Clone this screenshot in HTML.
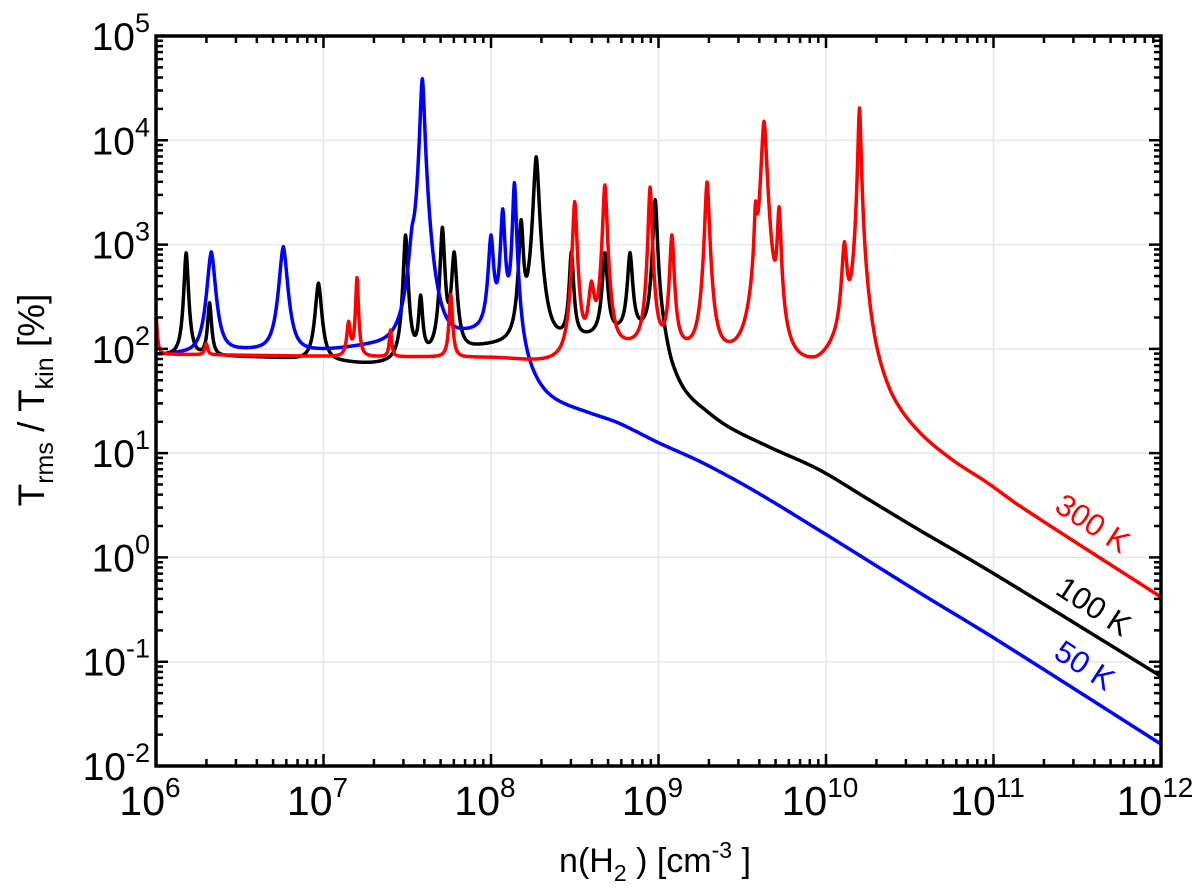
<!DOCTYPE html>
<html><head><meta charset="utf-8"><style>
html,body{margin:0;padding:0;background:#fff;}
svg{display:block;font-family:"Liberation Sans",Arial,sans-serif;}
</style></head><body>
<svg id="chart" width="1200" height="896" viewBox="0 0 1200 896">
<g id="grid"></g>
<g id="series"></g>
<g id="axes"></g>
<text x="1093" y="534" fill="#f00" font-size="31" text-anchor="middle" transform="rotate(33 1093 523)">300 K</text>
<text x="1094" y="617" fill="#000" font-size="31" text-anchor="middle" transform="rotate(33 1094 606)">100 K</text>
<text x="1085" y="676" fill="#00f" font-size="31" text-anchor="middle" transform="rotate(33 1085 665)">50 K</text>
<text x="655" y="872" font-size="34" text-anchor="middle">n(H<tspan font-size="23" dy="9">2</tspan><tspan dy="-9"> ) [cm</tspan><tspan font-size="23" dy="-14">-3</tspan><tspan dy="14"> ]</tspan></text>
<text transform="translate(44 400) rotate(-90)" font-size="37" text-anchor="middle">T<tspan font-size="25" dy="9">rms</tspan><tspan dy="-9"> / T</tspan><tspan font-size="25" dy="9">kin</tspan><tspan dy="-9"> [%]</tspan></text>
</svg>
<script>
// axis ranges (log10)
const xDecades = [6,7,8,9,10,11,12];
const yDecades = [-2,-1,0,1,2,3,4,5];
// black (100 K)
const blackBaseX = [6,6.5,7,7.3,7.6,8,8.5,9,9.08,9.16,9.28,9.42,9.66,9.96,10.26,10.56,10.86,11.16,12];
const blackBaseY = [1.95,1.93,1.9,1.87,1.95,2.05,2.12,2.15,1.8,1.58,1.41,1.25,1.06,0.84,0.55,0.26,-0.02,-0.31,-1.14];
const blackPeakX = [6.18,6.32,6.97,7.49,7.58,7.71,7.78,8.18,8.27,8.48,8.68,8.83,8.98];
const blackPeakY = [2.92,2.44,2.63,3.09,2.5,3.16,2.92,3.22,3.84,2.93,2.92,2.92,3.43];
const blackPeakW = [0.012,0.012,0.02,0.012,0.012,0.012,0.015,0.012,0.015,0.012,0.015,0.015,0.012];
// blue (50 K)
const blueBaseX = [6,6.5,7,7.3,7.6,8,8.12,8.2,8.3,8.4,8.6,8.76,9,9.26,9.56,9.96,10.56,11,12];
const blueBaseY = [1.95,2.0,2.0,2.05,2.1,2.2,2.15,1.85,1.62,1.5,1.38,1.29,1.1,0.91,0.65,0.26,-0.34,-0.77,-1.79];
const bluePeakX = [6.33,6.76,7.53,7.59,8.0,8.07,8.14];
const bluePeakY = [2.93,2.98,2.87,4.59,3.08,3.33,3.59];
const bluePeakW = [0.025,0.025,0.02,0.012,0.015,0.012,0.01];
// red (300 K)
const redBaseX = [6,6.02,7,8,8.3,8.5,8.8,9,9.3,9.6,9.93,10.1,10.22,10.3,10.4,10.56,10.75,10.96,11.16,12];
const redBaseY = [1.95,1.95,1.93,1.92,1.9,1.95,2.05,2.05,2.0,1.98,1.9,2.1,2.15,1.8,1.49,1.19,0.94,0.72,0.49,-0.38];
const redPeakX = [6.0,6.3,7.15,7.2,7.4,7.76,8.5,8.6,8.68,8.95,9.08,9.29,9.58,9.63,9.72,10.11,10.2];
const redPeakY = [2.3,2.05,2.25,2.68,2.18,2.52,3.41,2.6,3.57,3.55,3.09,3.6,3.27,4.18,3.33,3.0,4.31];
const redPeakW = [0.008,0.01,0.012,0.008,0.008,0.01,0.012,0.02,0.012,0.01,0.012,0.012,0.008,0.015,0.01,0.015,0.008];

const X0=156, X1=1161, Y0=36, Y1=766;
const xs = v => X0 + (v-6)/6*(X1-X0);
const ys = v => Y1 - (v+2)/7*(Y1-Y0);
const NS="http://www.w3.org/2000/svg";
function mk(tag, attrs, parent){const e=document.createElementNS(NS,tag);for(const k in attrs)e.setAttribute(k,attrs[k]);parent.appendChild(e);return e;}

const grid=document.getElementById('grid'), axes=document.getElementById('axes'), ser=document.getElementById('series');
xDecades.forEach(d=>{ if(d>6&&d<12){const l=mk('line',{x1:xs(d),x2:xs(d),y1:Y0,y2:Y1,stroke:'#e6e6e6','stroke-width':1.5},grid);

}});
yDecades.forEach(d=>{ if(d>-2&&d<5){const l=mk('line',{x1:X0,x2:X1,y1:ys(d),y2:ys(d),stroke:'#e6e6e6','stroke-width':1.5},grid);

}});

function interp(bx,by,x){
  if(x<=bx[0])return by[0];
  const n=bx.length;
  if(x>=bx[n-1])return by[n-1];
  let i=1; while(x>bx[i])i++;
  const x0=bx[i-1],x1=bx[i],y0=by[i-1],y1=by[i];
  const t=(x-x0)/(x1-x0);
  const m0 = i>1 ? (y1-by[i-2])/(x1-bx[i-2]) : (y1-y0)/(x1-x0);
  const m1 = i<n-1 ? (by[i+1]-y0)/(bx[i+1]-x0) : (y1-y0)/(x1-x0);
  const h=x1-x0, t2=t*t, t3=t2*t;
  return (2*t3-3*t2+1)*y0+(t3-2*t2+t)*h*m0+(-2*t3+3*t2)*y1+(t3-t2)*h*m1;
}
function curve(bx,by,px,py,pw,color,name){
  let d='';
  for(let i=0;i<=3000;i++){
    const x=6+i*0.002;
    let v=Math.pow(10,interp(bx,by,x));
    for(let k=0;k<px.length;k++){
      const A=Math.pow(10,py[k])-Math.pow(10,interp(bx,by,px[k]));
      const dx=x-px[k];
      const u=dx/pw[k];
      v+=A/(1+u*u)*Math.exp(-Math.abs(dx)/0.1);
    }
    const y=Math.log10(v);
    d+=(i?'L':'M')+xs(x).toFixed(2)+' '+ys(y).toFixed(2);
  }
  const p=mk('path',{d:d,fill:'none',stroke:color,'stroke-width':3.5,'stroke-linejoin':'round'},ser);
  
  
}
curve(blackBaseX,blackBaseY,blackPeakX,blackPeakY,blackPeakW,'#000','line-100k');
curve(blueBaseX,blueBaseY,bluePeakX,bluePeakY,bluePeakW,'#0000ff','line-50k');
curve(redBaseX,redBaseY,redPeakX,redPeakY,redPeakW,'#ff0000','line-300k');

const fr=mk('rect',{x:X0,y:Y0,width:X1-X0,height:Y1-Y0,fill:'none',stroke:'#000','stroke-width':3.5},axes);


let td='';
for(let d=6;d<12;d++)for(let m=1;m<10;m++){const x=xs(d+Math.log10(m));const L=m===1?12:7;
  td+=`M${x} ${Y1}V${Y1-L}M${x} ${Y0}V${Y0+L}`;}
for(let d=-2;d<5;d++)for(let m=1;m<10;m++){const y=ys(d+Math.log10(m));const L=m===1?12:7;
  td+=`M${X0} ${y}H${X0+L}M${X1} ${y}H${X1-L}`;}
const tk=mk('path',{d:td,stroke:'#000','stroke-width':2.5,fill:'none'},axes);


xDecades.forEach(d=>{const t=mk('text',{x:xs(d)-6,y:815,'font-size':41,'text-anchor':'middle'},axes);


t.innerHTML=`10<tspan font-size="28" dy="-18">${d}</tspan>`;});
yDecades.forEach(d=>{const t=mk('text',{x:150,y:ys(d)+14,'font-size':39,'text-anchor':'end'},axes);


t.innerHTML=`10<tspan font-size="27" dy="-18">${d}</tspan>`;});
</script>
</body></html>
